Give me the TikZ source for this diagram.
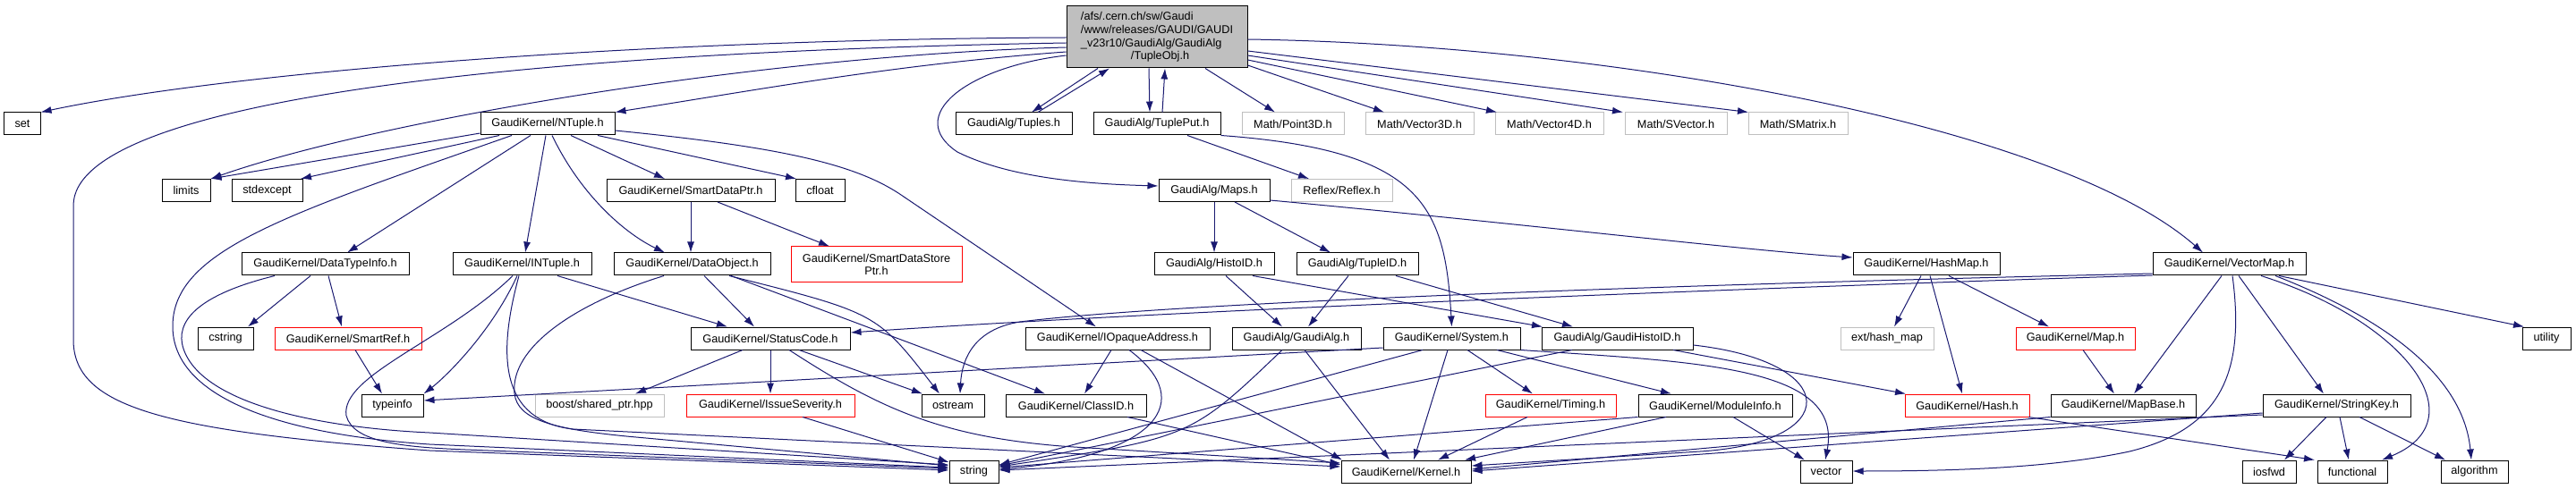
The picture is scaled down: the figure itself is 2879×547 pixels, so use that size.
\documentclass[tikz,border=0pt]{standalone}
\usepackage{fontspec}
\setmainfont{Liberation Sans}
\usetikzlibrary{arrows.meta}
\definecolor{doxy-blue}{HTML}{191970}
\definecolor{doxy-gray}{HTML}{BFBFBF}
\colorlet{include}{doxy-blue}
\tikzset{
  header/.style={draw=black, line width=1bp, minimum height=25bp, inner sep=0pt,
    font=\fontsize{12.7bp}{14.7bp}\selectfont},
  header-missing/.style={header, draw=doxy-gray},
  header-trunc/.style={header, draw=red},
  header-root/.style={header, fill=doxy-gray, minimum height=69bp, align=left},
  include-path/.style={draw=include, line width=1bp, -{Latex[length=12bp, width=8bp]}},
}
\begin{document}
\begin{tikzpicture}[x=1bp, y=-1bp]
\fill[white] (0,0) rectangle (2879,547);
\useasboundingbox (0,0) rectangle (2879,547);
% root
\node[header-root, minimum width=202bp] (root) at (1293,41.5) {/afs/.cern.ch/sw/Gaudi\\/www/releases/GAUDI/GAUDI\\\_v23r10/GaudiAlg/GaudiAlg\\\hspace*{56bp}/TupleObj.h};
% first level
\node[header, minimum width=40bp] (set) at (25,138.5) {set};
\node[header, minimum width=150bp] (ntuple) at (612,138.5) {GaudiKernel/NTuple.h};
\node[header, minimum width=130bp] (tuples) at (1133,138.5) {GaudiAlg/Tuples.h};
\node[header, minimum width=142bp] (tupleput) at (1293,138.5) {GaudiAlg/TuplePut.h};
\foreach \name/\cx/\w/\file in {point3d/1445/114bp/Point3D, vector3d/1586.5/121bp/Vector3D,
    vector4d/1731.5/121bp/Vector4D, svector/1873/114bp/SVector, smatrix/2009.5/111bp/SMatrix}
  \node[header-missing, minimum width=\w] (\name) at (\cx,138.5) {Math/\file.h};
% second level
\node[header, minimum width=54bp] (limits) at (208,213) {limits};
\node[header, minimum width=79bp] (stdexcept) at (298.5,213) {stdexcept};
\node[header, minimum width=188bp] (smartdataptr) at (772,213) {GaudiKernel/SmartDataPtr.h};
\node[header, minimum width=55bp] (cfloat) at (916.5,213) {cfloat};
\node[header, minimum width=124bp] (maps) at (1357,213) {GaudiAlg/Maps.h};
\node[header-missing, minimum width=113bp] (reflex) at (1499.5,213) {Reflex/Reflex.h};
% third level
\node[header, minimum width=187bp] (datatypeinfo) at (363.5,295.5) {GaudiKernel/DataTypeInfo.h};
\node[header, minimum width=155bp] (intuple) at (583.5,295.5) {GaudiKernel/INTuple.h};
\node[header, minimum width=175bp] (dataobject) at (773.5,295.5) {GaudiKernel/DataObject.h};
\node[header-trunc, minimum width=191bp, minimum height=40bp, align=center] (smartdatastoreptr) at (979.5,296) {GaudiKernel/SmartDataStore\\Ptr.h};
\node[header, minimum width=134bp] (histoid) at (1357,295.5) {GaudiAlg/HistoID.h};
\node[header, minimum width=136bp] (tupleid) at (1517,295.5) {GaudiAlg/TupleID.h};
\node[header, minimum width=164bp] (hashmap) at (2153,295.5) {GaudiKernel/HashMap.h};
\node[header, minimum width=171bp] (vectormap) at (2491.5,295.5) {GaudiKernel/VectorMap.h};
% fourth level
\node[header, minimum width=62bp] (cstring) at (252,378.5) {cstring};
\node[header-trunc, minimum width=164bp] (smartref) at (389,378.5) {GaudiKernel/SmartRef.h};
\node[header, minimum width=178bp] (statuscode) at (861,378.5) {GaudiKernel/StatusCode.h};
\node[header, minimum width=206bp] (iopaqueaddress) at (1249,378.5) {GaudiKernel/IOpaqueAddress.h};
\node[header, minimum width=144bp] (gaudialg) at (1449,378.5) {GaudiAlg/GaudiAlg.h};
\node[header, minimum width=153bp] (system) at (1622.5,378.5) {GaudiKernel/System.h};
\node[header, minimum width=169bp] (gaudihistoid) at (1807.5,378.5) {GaudiAlg/GaudiHistoID.h};
\node[header-missing, minimum width=104bp] (hashmapext) at (2109,378.5) {ext/hash\_map};
\node[header-trunc, minimum width=133bp] (map) at (2319.5,378.5) {GaudiKernel/Map.h};
\node[header, minimum width=54bp] (utility) at (2846,378.5) {utility};
% fifth level
\node[header, minimum width=69bp] (typeinfo) at (438.5,453.5) {typeinfo};
\node[header-missing, minimum width=144bp] (boost) at (670,453.5) {boost/shared\_ptr.hpp};
\node[header-trunc, minimum width=188bp] (issueseverity) at (861,453.5) {GaudiKernel/IssueSeverity.h};
\node[header, minimum width=70bp] (ostream) at (1065,453.5) {ostream};
\node[header, minimum width=157bp] (classid) at (1202.5,453.5) {GaudiKernel/ClassID.h};
\node[header-trunc, minimum width=146bp] (timing) at (1733,453.5) {GaudiKernel/Timing.h};
\node[header, minimum width=172bp] (moduleinfo) at (1917,453.5) {GaudiKernel/ModuleInfo.h};
\node[header-trunc, minimum width=139bp] (hash) at (2198.5,453.5) {GaudiKernel/Hash.h};
\node[header, minimum width=162bp] (mapbase) at (2373,453.5) {GaudiKernel/MapBase.h};
\node[header, minimum width=165bp] (stringkey) at (2611.5,453.5) {GaudiKernel/StringKey.h};
% bottom level
\node[header, minimum width=55bp] (string) at (1088.5,527.5) {string};
\node[header, minimum width=145bp] (kernel) at (1571.5,527.5) {GaudiKernel/Kernel.h};
\node[header, minimum width=58bp] (vector) at (2041,527.5) {vector};
\node[header, minimum width=60bp] (iosfwd) at (2536,527.5) {iosfwd};
\node[header, minimum width=78bp] (functional) at (2629,527.5) {functional};
\node[header, minimum width=75bp] (algorithm) at (2765.5,527.5) {algorithm};

% straight includes, bottom to top
\foreach \src/\sx/\dst/\dx in {root/1227/tuples/1153, root/1284/tupleput/1285, root/1347/point3d/1425,
    ntuple/558/stdexcept/336, ntuple/593/datatypeinfo/388, ntuple/610/intuple/587,
    ntuple/638/smartdataptr/743, ntuple/668/cfloat/890,
    smartdataptr/772/dataobject/772, smartdataptr/802/smartdatastoreptr/927,
    datatypeinfo/347/cstring/277, datatypeinfo/367/smartref/382, smartref/397/typeinfo/427,
    intuple/623/statuscode/813, dataobject/787/statuscode/843, dataobject/817/classid/1168,
    statuscode/830/boost/710, statuscode/861/issueseverity/861, statuscode/893/ostream/1031,
    iopaqueaddress/1242/classid/1212, iopaqueaddress/1275/kernel/1500, gaudialg/1458/kernel/1553,
    histoid/1370/gaudialg/1433, histoid/1400/gaudihistoid/1724,
    tupleid/1507/gaudialg/1462, tupleid/1560/gaudihistoid/1758,
    maps/1357/histoid/1357, maps/1380/tupleid/1487, tupleput/1327/reflex/1463,
    system/1618/kernel/1580, system/1640/timing/1713, system/1673/moduleinfo/1868,
    gaudihistoid/1870/hash/2130, timing/1707/kernel/1607,
    moduleinfo/1862/kernel/1637, moduleinfo/1937/vector/2017,
    hashmap/2147/hashmapext/2117, hashmap/2157/hash/2193, hashmap/2178/map/2290,
    map/2328/mapbase/2363, hash/2267/functional/2587,
    stringkey/2600/iosfwd/2553, stringkey/2615/functional/2625, stringkey/2637/algorithm/2733,
    vectormap/2483/mapbase/2385, vectormap/2502/stringkey/2597, vectormap/2547/utility/2821}
  \draw[include-path] (\sx,0 |- \src.south) -- (\dx,0 |- \dst.north);
% bottom to side
\foreach \src/\sx/\dst/\side/\dy in {issueseverity/897/string/west/517, classid/1260/kernel/west/520,
    system/1590/string/east/520, gaudihistoid/1757/string/east/521}
  \draw[include-path] (\sx,0 |- \src.south) -- (\dst.\side |- 0,\dy);
% side to top
\foreach \dst/\sy/\dx in {vector3d/73/1547, vector4d/67/1673, svector/62/1814, smatrix/57/1954}
  \draw[include-path] (root.east |- 0,\sy) -- (\dx,0 |- \dst.north);

% TupleObj.h
\draw[include-path] (root.west |- 0,42) .. controls (700,44) and (250,82) .. (set.north east);
\draw[include-path] (root.west |- 0,48) .. controls (600,58) and (82,110) .. (82,230) -- (82,380)
  .. controls (82,455) and (180,482) .. (480,504) -- (string.west |- 0,526);
\draw[include-path] (root.west |- 0,53) .. controls (850,62) and (420,135) .. (limits.north east);
\draw[include-path] (root.west |- 0,58) .. controls (1000,72) and (850,100) .. (ntuple.north east);
\draw[include-path] (root.west |- 0,62) .. controls (1080,75) and (1010,130) .. (1070,170)
  .. controls (1130,200) and (1220,206) .. (maps.west |- 0,208);
\draw[include-path] (root.east |- 0,44) .. controls (1800,50) and (2300,140) .. (2462,0 |- vectormap.north);
% back edges
\draw[include-path] (1160,0 |- tuples.north) -- (1240,0 |- root.south);
\draw[include-path] (1299,0 |- tupleput.north) -- (1302,0 |- root.south);
% NTuple.h
\draw[include-path] (ntuple.west |- 0,149) -- (limits.north east);
\draw[include-path] (572,0 |- ntuple.south) .. controls (320,240) and (193,280) .. (193,365)
  .. controls (193,440) and (300,485) .. (480,497) -- (string.west |- 0,523);
\draw[include-path] (617,0 |- ntuple.south) .. controls (650,220) and (700,262) .. (743,0 |- dataobject.north);
\draw[include-path] (ntuple.east |- 0,146) .. controls (880,165) and (960,185) .. (1010,220)
  -- (1225,0 |- iopaqueaddress.north);
% DataTypeInfo.h, INTuple.h, DataObject.h
\draw[include-path] (307,0 |- datatypeinfo.south) .. controls (220,330) and (195,360) .. (205,390)
  .. controls (225,450) and (350,478) .. (480,484) -- (string.west |- 0,520);
\draw[include-path] (578,0 |- intuple.south) .. controls (550,370) and (500,420) .. (typeinfo.north east);
\draw[include-path] (573,0 |- intuple.south) .. controls (500,380) and (380,420) .. (387,465)
  .. controls (395,495) and (450,500) .. (520,503) -- (string.west |- 0,524);
\draw[include-path] (580,0 |- intuple.south) .. controls (555,400) and (560,470) .. (640,480)
  -- (kernel.west |- 0,522);
\draw[include-path] (742,0 |- dataobject.south) .. controls (640,340) and (570,390) .. (575,440)
  .. controls (578,470) and (620,480) .. (700,488) -- (string.west |- 0,521);
\draw[include-path] (815,0 |- dataobject.south) .. controls (980,350) .. (1050,0 |- ostream.north);
% StatusCode.h, IOpaqueAddress.h, GaudiAlg.h
\draw[include-path] (882,0 |- statuscode.south) .. controls (980,455) and (1050,490) .. (1200,500)
  -- (kernel.west |- 0,518);
\draw[include-path] (1262,0 |- iopaqueaddress.south) .. controls (1340,450) and (1290,510) .. (string.east |- 0,525);
\draw[include-path] (1433,0 |- gaudialg.south) .. controls (1330,490) .. (string.east |- 0,522);
% Maps.h, TuplePut.h, System.h
\draw[include-path] (maps.east |- 0,224) .. controls (1700,250) and (1950,280) .. (hashmap.west |- 0,288);
\draw[include-path] (tupleput.south east) .. controls (1590,168) and (1615,230) .. (system.north);
\draw[include-path] (system.west |- 0,389) -- (typeinfo.east |- 0,448);
\draw[include-path] (system.south east) .. controls (1900,405) and (2060,410) .. (2040,0 |- vector.north);
% GaudiHistoID.h, ModuleInfo.h, MapBase.h, StringKey.h
\draw[include-path] (gaudihistoid.east |- 0,386) .. controls (2060,405) and (2060,495) .. (1900,505)
  -- (kernel.east |- 0,521);
\draw[include-path] (moduleinfo.south west) -- (string.east |- 0,523);
\draw[include-path] (mapbase.south west) -- (kernel.east |- 0,525);
\draw[include-path] (stringkey.west |- 0,462) -- (kernel.east |- 0,527);
\draw[include-path] (stringkey.west |- 0,464) -- (string.east |- 0,526);
% VectorMap.h
\draw[include-path] (vectormap.west |- 0,306) .. controls (1800,320) and (1300,340) .. (1140,360)
  .. controls (1090,368) and (1075,400) .. (1073,0 |- ostream.north);
\draw[include-path] (vectormap.west |- 0,308) .. controls (1900,324) and (1300,348) .. (statuscode.east |- 0,372);
\draw[include-path] (2495,0 |- vectormap.south) .. controls (2510,420) and (2480,480) .. (2380,505)
  .. controls (2300,522) and (2200,527) .. (vector.east |- 0,527);
\draw[include-path] (2527,0 |- vectormap.south) .. controls (2690,360) and (2770,470) .. (2662,0 |- functional.north);
\draw[include-path] (2543,0 |- vectormap.south) .. controls (2700,370) and (2755,440) .. (2762,0 |- algorithm.north);
\end{tikzpicture}
\end{document}
